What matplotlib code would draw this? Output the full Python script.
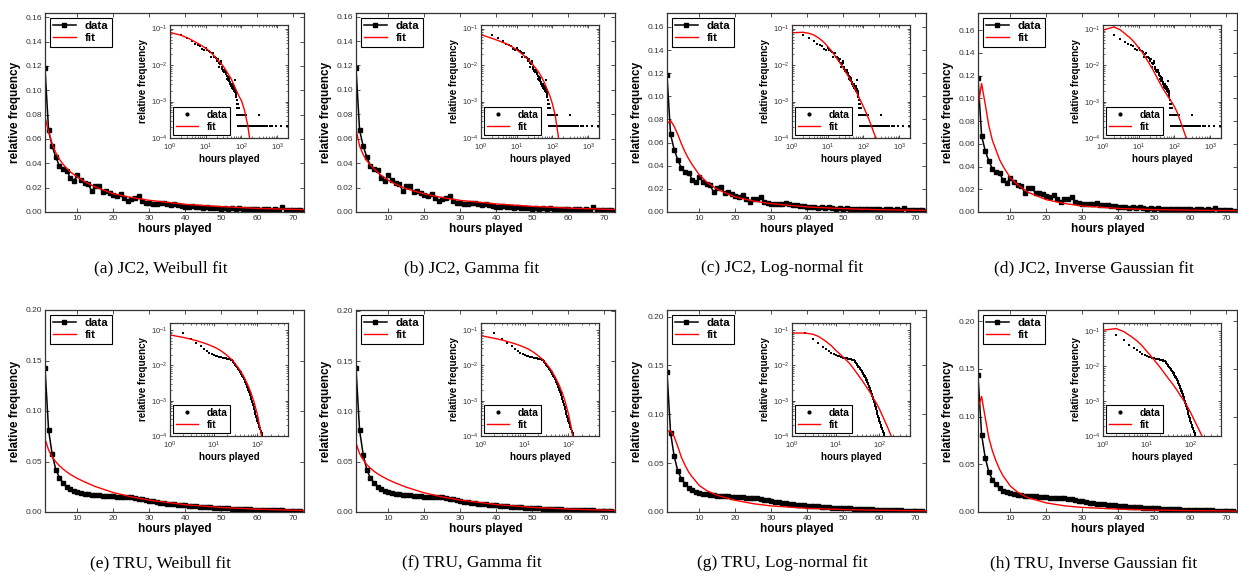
import numpy as np
import matplotlib
matplotlib.use("Agg")
import matplotlib.pyplot as plt
from matplotlib.ticker import MultipleLocator, FormatStrFormatter, LogLocator
from matplotlib.lines import Line2D

plt.rcParams['font.family'] = ['Liberation Sans', 'DejaVu Sans']
plt.rcParams['mathtext.fontset'] = 'custom'
plt.rcParams['mathtext.rm'] = 'Liberation Sans'
plt.rcParams['mathtext.it'] = 'Liberation Sans:italic'
plt.rcParams['mathtext.bf'] = 'Liberation Sans:bold'

# ---- data ----
hours = list(range(1, 73))

jc2_freq = [0.118, 0.067, 0.054, 0.045, 0.038, 0.035, 0.034, 0.028, 0.0255, 0.030,
            0.026, 0.024, 0.023, 0.017, 0.021, 0.0215, 0.0165, 0.017, 0.0155, 0.0142,
            0.013, 0.015, 0.0115, 0.0088, 0.011, 0.0115, 0.013, 0.009, 0.0077, 0.0072,
            0.0068, 0.0066, 0.0070, 0.0075, 0.0065, 0.0058, 0.0062, 0.0055, 0.0050, 0.0042,
            0.0040, 0.0047, 0.0038, 0.0044, 0.0036, 0.0040, 0.0033, 0.0030, 0.0035, 0.0028,
            0.0031, 0.0026, 0.0029, 0.0024, 0.0030, 0.0026, 0.0022, 0.0027, 0.0024, 0.0026,
            0.0020, 0.0025, 0.0022, 0.0018, 0.0022, 0.0018, 0.0038, 0.0016, 0.0020, 0.0015,
            0.0017, 0.0013]

# long tail of JC2 (only visible in the log-log inset)
jc2_tail_hours = [73, 74, 75, 76, 77, 78, 79, 80, 81, 82, 83, 84, 85, 86, 87, 88, 89, 90,
                  92, 93, 94, 96, 97, 99, 100, 102, 104, 105, 107, 110, 112, 114, 117, 120,
                  122, 126, 130, 135, 138, 143, 150, 156, 162, 170, 178, 185, 195, 205,
                  220, 235, 250, 270, 290, 300, 320, 350, 380, 420, 470, 530, 610, 700,
                  900, 1250, 1900]
jc2_tail_freq = [8.8e-4, 6.6e-4, 1.1e-3, 6.6e-4, 4.4e-4, 8.8e-4, 4.4e-4, 6.6e-4, 2.2e-4,
                 4.4e-4, 6.6e-4, 2.2e-4, 4.4e-4, 2.2e-4, 4.4e-4, 2.2e-4, 2.2e-4, 4.4e-4,
                 2.2e-4, 4.4e-4, 2.2e-4, 4.4e-4, 2.2e-4, 2.2e-4, 4.4e-4, 2.2e-4, 2.2e-4,
                 4.4e-4, 2.2e-4, 2.2e-4, 4.4e-4, 2.2e-4, 2.2e-4, 4.4e-4, 2.2e-4, 2.2e-4,
                 2.2e-4, 4.4e-4, 2.2e-4, 2.2e-4, 2.2e-4, 2.2e-4, 2.2e-4, 2.2e-4, 2.2e-4,
                 2.2e-4, 2.2e-4, 2.2e-4, 2.2e-4, 2.2e-4, 2.2e-4, 2.2e-4, 2.2e-4, 4.4e-4,
                 2.2e-4, 2.2e-4, 2.2e-4, 2.2e-4, 2.2e-4, 2.2e-4, 2.2e-4, 2.2e-4, 2.2e-4,
                 2.2e-4, 2.2e-4]

tru_freq = [0.143, 0.081, 0.057, 0.042, 0.034, 0.029, 0.025, 0.0225, 0.0208, 0.0196,
            0.0188, 0.0181, 0.0176, 0.0172, 0.0168, 0.0166, 0.0163, 0.0160, 0.0157, 0.0154,
            0.0151, 0.0149, 0.0146, 0.0147, 0.0145, 0.0140, 0.0133, 0.0126, 0.0118, 0.0110,
            0.0104, 0.0098, 0.0093, 0.0088, 0.0083, 0.0079, 0.0075, 0.0072, 0.0069, 0.0066,
            0.0063, 0.0060, 0.0057, 0.0054, 0.0051, 0.0049, 0.0046, 0.0044, 0.0042, 0.0040,
            0.0038, 0.0036, 0.0034, 0.0032, 0.0030, 0.0029, 0.0027, 0.0026, 0.0024, 0.0023,
            0.0022, 0.0020, 0.0019, 0.0018, 0.0017, 0.0016, 0.0015, 0.0014, 0.0014, 0.0013,
            0.0012, 0.0011]

tru_tail_hours = [74, 76, 78, 80, 82, 84, 86, 88, 90, 92, 94, 96, 98, 100, 102, 104, 106,
                  108, 110, 112, 115, 118, 121, 124, 127, 130, 133, 136]
tru_tail_freq = [1.0e-3, 9.0e-4, 8.1e-4, 7.3e-4, 6.5e-4, 5.8e-4, 5.2e-4, 4.7e-4, 4.2e-4,
                 3.8e-4, 3.5e-4, 3.2e-4, 2.9e-4, 2.7e-4, 2.5e-4, 2.3e-4, 2.1e-4, 1.95e-4,
                 1.8e-4, 1.7e-4, 1.55e-4, 1.4e-4, 1.3e-4, 1.2e-4, 1.1e-4, 1.0e-4, 9e-5, 8e-5]

# fitted curves, sampled at these hours
fit_hours = [1, 2, 3, 4, 5, 6, 7, 8, 10, 12, 15, 20, 25, 30, 40, 50, 60, 72, 85, 100,
             120, 150, 200, 250, 300]

jc2_weibull = [0.078, 0.0658, 0.056, 0.0488, 0.0433, 0.0393, 0.036, 0.033, 0.0288, 0.025,
               0.0205, 0.015, 0.0119, 0.0096, 0.0063, 0.0044, 0.0030, 0.0020, 0.0014,
               0.00105, 0.0006, 0.00022, 0.00003, 0.00001, 0.000005]
jc2_gamma = [0.068, 0.054, 0.047, 0.042, 0.0386, 0.0355, 0.0327, 0.030, 0.026, 0.0228,
             0.019, 0.0148, 0.0118, 0.0095, 0.0066, 0.0046, 0.0032, 0.0021, 0.0014,
             0.00085, 0.0004, 0.00009, 0.00001, 0.000005, 0.000002]
jc2_lognormal = [0.0764, 0.079, 0.074, 0.067, 0.059, 0.052, 0.046, 0.041, 0.032, 0.026,
                 0.0195, 0.013, 0.0095, 0.0072, 0.0044, 0.0029, 0.0020, 0.0014, 0.0010,
                 0.00072, 0.00048, 0.00028, 0.00013, 0.00008, 0.00005]
jc2_invgauss = [0.0924, 0.113, 0.095, 0.076, 0.063, 0.0545, 0.046, 0.040, 0.030, 0.024,
                0.0172, 0.0108, 0.0075, 0.0053, 0.0031, 0.0021, 0.0016, 0.0012, 0.00095,
                0.00072, 0.0005, 0.00027, 0.00012, 0.00007, 0.00004]

tru_weibull = [0.0723, 0.0614, 0.0547, 0.0497, 0.0458, 0.0426, 0.0398, 0.0373, 0.0332, 0.0298,
               0.0252, 0.0192, 0.0150, 0.0117, 0.0072, 0.0045, 0.0028, 0.0016, 0.00085,
               0.0004, 0.00013, 0.00002, 0.000002, 0.000001, 0.000001]
tru_gamma = [0.0686, 0.058, 0.052, 0.047, 0.0435, 0.0405, 0.038, 0.0358, 0.032, 0.0288,
             0.0246, 0.019, 0.015, 0.0118, 0.0074, 0.0046, 0.0029, 0.0017, 0.0009,
             0.00042, 0.00014, 0.00002, 0.000002, 0.000001, 0.000001]
tru_lognormal = [0.083, 0.083, 0.077, 0.067, 0.056, 0.048, 0.041, 0.036, 0.027, 0.022,
                 0.017, 0.012, 0.0085, 0.0062, 0.0038, 0.0025, 0.0018, 0.0012, 0.00085,
                 0.00058, 0.00035, 0.00019, 0.00008, 0.00004, 0.00002]
tru_invgauss = [0.109, 0.121, 0.099, 0.078, 0.064, 0.0535, 0.0447, 0.0377, 0.0271, 0.0208,
                0.0148, 0.0095, 0.0065, 0.0048, 0.0030, 0.0020, 0.0014, 0.0010, 0.0007,
                0.00048, 0.0003, 0.00017, 0.00008, 0.00004, 0.00002]

captions = ["(a) JC2, Weibull fit", "(b) JC2, Gamma fit", "(c) JC2, Log-normal fit",
            "(d) JC2, Inverse Gaussian fit", "(e) TRU, Weibull fit", "(f) TRU, Gamma fit",
            "(g) TRU, Log-normal fit", "(h) TRU, Inverse Gaussian fit"]
fits = [jc2_weibull, jc2_gamma, jc2_lognormal, jc2_invgauss,
        tru_weibull, tru_gamma, tru_lognormal, tru_invgauss]
main_ytop = [0.1635, 0.163, 0.172, 0.175, 0.2, 0.2007, 0.2068, 0.2116]
inset_ytop = [0.125, 0.125, 0.125, 0.128, 0.157, 0.157, 0.16, 0.175]

W, H = 1238, 576
fig = plt.figure(figsize=(W / 100, H / 100), dpi=100)


def rect(l, t, r, b):
    return [l / W, 1 - b / H, (r - l) / W, (b - t) / H]


def style_axes(ax, size):
    for s in ax.spines.values():
        s.set_linewidth(0.9)
        s.set_color('#333333')
    ax.tick_params(which='both', direction='in', top=True, right=True,
                   labelsize=size, colors='#333333', width=0.6, pad=2)


def draw_panel(i):
    row, col = divmod(i, 4)
    left = [45, 356, 667, 978][col]
    top, bottom = (13, 212) if row == 0 else (310, 512)
    if row == 0:
        x_all = hours + jc2_tail_hours
        y_all = jc2_freq + jc2_tail_freq
        ystep = 0.02
        in_xmax = 2000
    else:
        x_all = hours + tru_tail_hours
        y_all = tru_freq + tru_tail_freq
        ystep = 0.05
        in_xmax = 500
    fit = fits[i]

    ax = fig.add_axes(rect(left, top, left + 259, bottom))
    ax.plot(x_all, y_all, '-s', color='k', lw=1.1, ms=3.4, label='data')
    ax.plot(fit_hours, fit, '-', color='red', lw=1, label='fit')
    ax.set_xlim(1, 73)
    ax.set_ylim(0, main_ytop[i])
    ax.xaxis.set_major_locator(MultipleLocator(10))
    ax.yaxis.set_major_locator(MultipleLocator(ystep))
    ax.yaxis.set_major_formatter(FormatStrFormatter('%.2f'))
    style_axes(ax, 6)
    ax.tick_params(length=3)
    ax.set_xlabel('hours played', fontsize=8.5, fontweight='bold', labelpad=1)
    ax.set_ylabel('relative frequency', fontsize=8.5, fontweight='bold', labelpad=3)
    leg = ax.legend(loc='upper left', prop={'size': 8.2, 'weight': 'bold'},
                    fancybox=False, framealpha=1, edgecolor='k', borderpad=0.3,
                    labelspacing=0.2, handlelength=2.0, handletextpad=0.8,
                    borderaxespad=0.4)
    leg.get_frame().set_linewidth(0.8)

    il = left + 125
    it, ib = (25, 138) if row == 0 else (323, 436)
    ins = fig.add_axes(rect(il, it, il + 118, ib))
    ins.loglog(x_all, y_all, 's', color='k', ms=2.1, mew=0, label='data')
    ins.loglog(fit_hours, fit, '-', color='red', lw=1, label='fit')
    ins.set_xlim(1, in_xmax)
    ins.set_ylim(1e-4, inset_ytop[i])
    ins.xaxis.set_major_locator(LogLocator(base=10))
    ins.yaxis.set_major_locator(LogLocator(base=10))
    style_axes(ins, 5.5)
    ins.tick_params(which='major', length=2.5)
    ins.tick_params(which='minor', length=1.4, width=0.5)
    ins.tick_params(axis='x', pad=2.8)
    ins.set_xlabel('hours played', fontsize=7, fontweight='bold', labelpad=0.5)
    ins.set_ylabel('relative frequency', fontsize=7, fontweight='bold', labelpad=2)
    handles = [Line2D([], [], ls='none', marker='.', color='k', ms=4),
               Line2D([], [], color='red', lw=1)]
    leg2 = ins.legend(handles, ['data', 'fit'], loc='lower left',
                      prop={'size': 7.3, 'weight': 'bold'}, fancybox=False,
                      framealpha=1, edgecolor='k', borderpad=0.3, labelspacing=0.2,
                      handlelength=2.2, handletextpad=0.8, borderaxespad=0.3)
    leg2.get_frame().set_linewidth(0.8)

    cx = left + 129.5 - 14
    cy = 268 if row == 0 else 563
    fig.text(cx / W, 1 - cy / H, captions[i], ha='center', va='center',
             family='Liberation Serif', fontsize=12.5)


for i in range(8):
    draw_panel(i)

fig.savefig('out.png', dpi=100)
